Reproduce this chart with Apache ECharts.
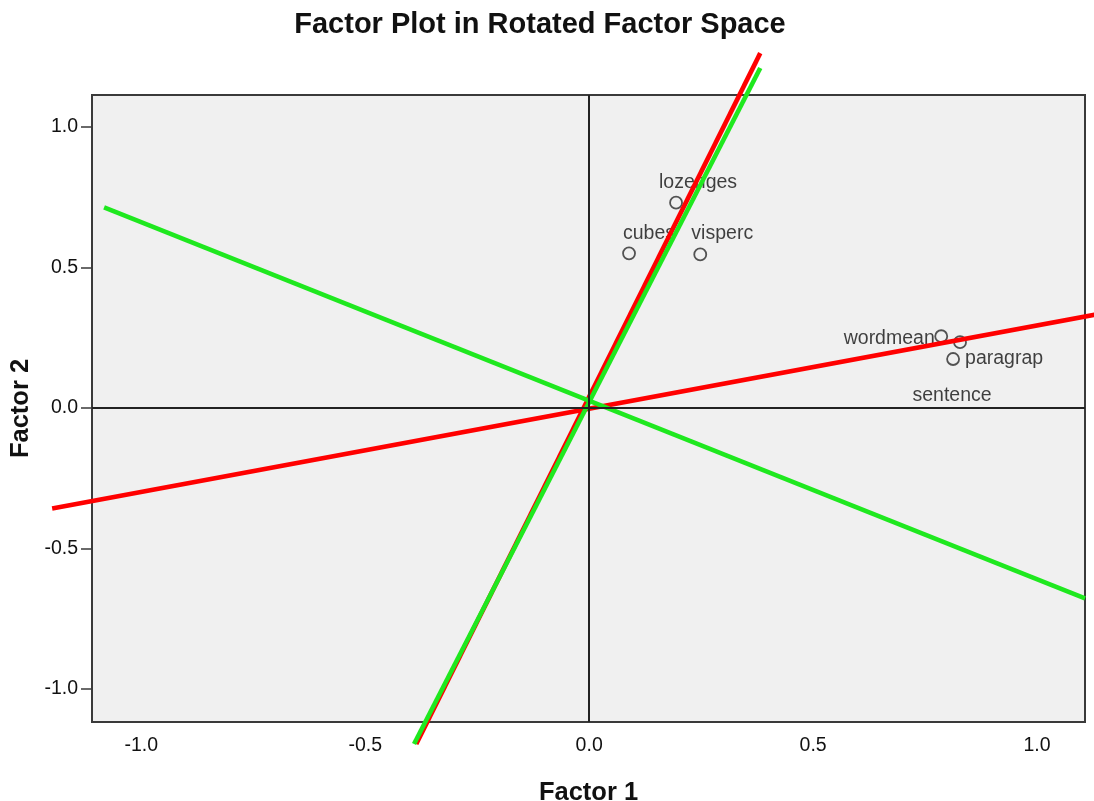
<!DOCTYPE html>
<html>
<head>
<meta charset="utf-8">
<script src="https://cdn.jsdelivr.net/npm/echarts@6/dist/echarts.min.js"></script>
<style>
  html, body { margin: 0; padding: 0; background: #ffffff; }
  #chart { width: 1094px; height: 801px; }
</style>
</head>
<body>
<div id="chart"></div>
<script>
// Variable loadings on the two rotated factors
const variableNames = ['cubes', 'lozenges', 'visperc', 'wordmean', 'sentence', 'paragrap'];
const factor1Loadings = [0.089, 0.194, 0.248, 0.786, 0.828, 0.8125];
const factor2Loadings = [0.550, 0.730, 0.546, 0.255, 0.234, 0.174];

// Reference axes: each line is [f1 start, f2 start, f1 end, f2 end]
const redAxes = [
  [-1.199, -0.358, 1.145, 0.336],
  [-0.386, -1.195, 0.382, 1.262]
];
const greenAxes = [
  [-1.083, 0.713, 1.107, -0.677],
  [-0.391, -1.195, 0.382, 1.209]
];

// Tick values shown on both axes
const tickValues = [-1.0, -0.5, 0.0, 0.5, 1.0];

// Label placement around each point (pixels, relative to the point centre)
const labelShift = {
  cubes: [20, -20],
  lozenges: [22, -20],
  visperc: [22, -21],
  wordmean: [-52, 2],
  sentence: [-8, 53],
  paragrap: [51, 0]
};

const points = variableNames.map((name, i) => ({
  name: name,
  value: [factor1Loadings[i], factor2Loadings[i]],
  label: { offset: labelShift[name] }
}));

const fontFamily = 'Liberation Sans, Arial, sans-serif';
const tickLabel = { color: '#111', fontSize: 19.5, fontFamily: fontFamily };

// Straight segments drawn in data space, allowed to run past the plot frame
function segmentSeries(segments, color) {
  return {
    type: 'custom',
    data: segments,
    clip: false,
    silent: true,
    encode: { x: [0, 2], y: [1, 3] },
    renderItem: function (params, api) {
      const p1 = api.coord([api.value(0), api.value(1)]);
      const p2 = api.coord([api.value(2), api.value(3)]);
      return {
        type: 'line',
        shape: { x1: p1[0], y1: p1[1], x2: p2[0], y2: p2[1] },
        style: { stroke: color, lineWidth: 4.6, lineCap: 'butt' }
      };
    },
    z: 3
  };
}

const chart = echarts.init(document.getElementById('chart'), null, { renderer: 'canvas' });
chart.setOption({
  animation: false,
  backgroundColor: '#ffffff',
  title: {
    text: 'Factor Plot in Rotated Factor Space',
    left: 535,
    textAlign: 'center',
    top: 5,
    textStyle: { fontFamily: fontFamily, fontSize: 29, fontWeight: 'bold', color: '#111' }
  },
  grid: {
    left: 92, right: 9, top: 95, bottom: 79,
    containLabel: false,
    outerBoundsMode: 'none',
    show: true,
    backgroundColor: '#f0f0f0',
    borderColor: '#3a3a3a',
    borderWidth: 2
  },
  xAxis: {
    type: 'value',
    min: -1.11, max: 1.107,
    name: 'Factor 1',
    nameLocation: 'middle',
    nameGap: 58,
    nameTextStyle: { fontFamily: fontFamily, fontSize: 25.5, fontWeight: 'bold', color: '#111' },
    axisLine: { show: false, onZero: false },
    splitLine: { show: false },
    axisTick: { show: false },
    axisLabel: Object.assign({ customValues: tickValues, margin: 14, formatter: v => v.toFixed(1) }, tickLabel)
  },
  yAxis: {
    type: 'value',
    min: -1.117, max: 1.113,
    name: 'Factor 2',
    nameLocation: 'middle',
    nameGap: 44,
    nameRotate: 90,
    nameTextStyle: { fontFamily: fontFamily, fontSize: 25.5, fontWeight: 'bold', color: '#111' },
    axisLine: { show: false, onZero: false },
    splitLine: { show: false },
    axisTick: { show: true, length: 11, customValues: tickValues, lineStyle: { color: '#3a3a3a', width: 1.5 } },
    axisLabel: Object.assign({ customValues: tickValues, margin: 14, formatter: v => v.toFixed(1) }, tickLabel)
  },
  series: [
    {
      // zero reference lines
      type: 'scatter',
      data: [],
      silent: true,
      markLine: {
        silent: true,
        symbol: 'none',
        label: { show: false },
        lineStyle: { color: '#222', width: 2, type: 'solid' },
        data: [{ xAxis: 0 }, { yAxis: 0 }]
      },
      z: 1
    },
    segmentSeries(redAxes, '#ff0000'),
    segmentSeries(greenAxes, '#1fe81f'),
    {
      type: 'scatter',
      data: points,
      symbol: 'circle',
      symbolSize: 12,
      itemStyle: { color: 'rgba(0,0,0,0)', borderColor: '#2a2a2a', borderWidth: 1.8 },
      label: {
        show: true,
        position: 'inside',
        formatter: p => p.name,
        color: '#111',
        fontSize: 19.5,
        fontFamily: fontFamily
      },
      z: 2
    }
  ]
});
</script>
</body>
</html>
